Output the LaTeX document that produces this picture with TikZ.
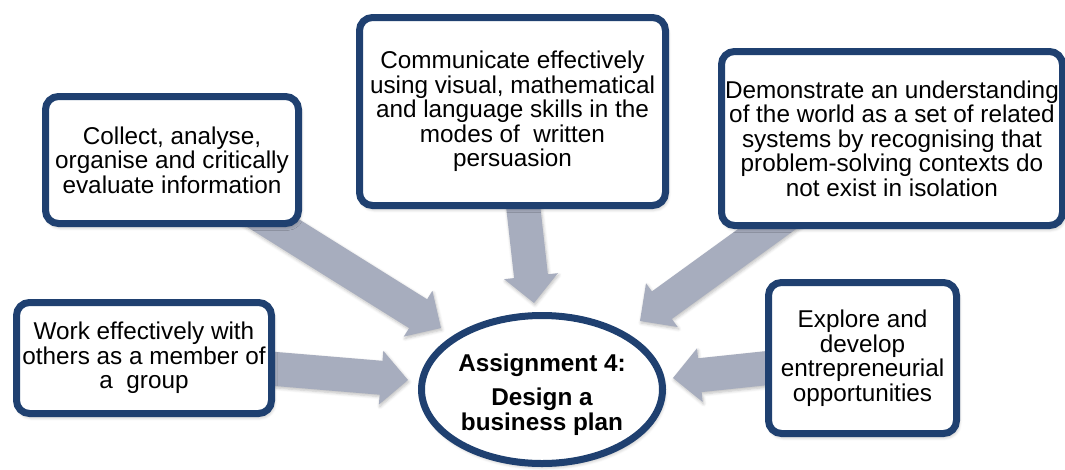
\documentclass[tikz,border=0pt]{standalone}
\usepackage{fontspec}
\setmainfont{Liberation Sans}
\usetikzlibrary{calc,shapes.geometric,shadows.blur,backgrounds}

\definecolor{rimblue}{RGB}{31,64,112}
\definecolor{flowgrey}{RGB}{167,173,190}

\tikzset{
  softshadow/.style={blur shadow={shadow xshift=1.5pt, shadow yshift=-3pt,
      shadow blur radius=4pt, shadow blur steps=6, shadow opacity=35}},
  goalbox/.style={draw=rimblue, line width=7pt, fill=white,
      rounded corners=13pt, inner sep=0pt, align=center,
      font=\fontsize{24.3}{24.5}\selectfont, softshadow},
  hub/.style={ellipse, draw=rimblue, line width=7pt, fill=white,
      inner sep=0pt, align=center,
      font=\fontsize{24.3}{24.5}\selectfont\bfseries, softshadow},
  flow/.style={fill=flowgrey, blur shadow={shadow xshift=1pt,
      shadow yshift=-2pt, shadow blur radius=3pt, shadow blur steps=5,
      shadow opacity=25}}
}

% Block arrow from #1 (tail) to #2 (tip): shaft 34, head 54 wide, 27 long
\newcommand{\flowarrow}[2]{%
  \coordinate (fa-hb) at ($(#2)!27pt!(#1)$);
  \fill[flow] (#2)
    -- ($(fa-hb)!27pt!90:(#2)$)
    -- ($(fa-hb)!17pt!90:(#2)$)
    -- ($(#1)!17pt!90:(fa-hb)$)
    -- ($(#1)!17pt!-90:(fa-hb)$)
    -- ($(fa-hb)!17pt!-90:(#2)$)
    -- ($(fa-hb)!27pt!-90:(#2)$)
    -- cycle;
}

\begin{document}
\begin{tikzpicture}[x=1pt,y=-1pt]
\useasboundingbox (0,0) rectangle (1065,469);

% outcome boxes
\node[goalbox, minimum width=253pt, minimum height=127pt] (collect) at (172,160)
  {Collect, analyse,\\organise and critically\\evaluate information};
\node[goalbox, minimum width=306pt, minimum height=188pt] (communicate) at (512.5,111.5)
  {Communicate effectively\\using visual, mathematical\\and language skills in the\\modes of~ written\\persuasion};
\node[goalbox, minimum width=341pt, minimum height=174pt] (demonstrate) at (892,138.5)
  {Demonstrate an understanding\\of the world as a set of related\\systems by recognising that\\problem-solving contexts do\\not exist in isolation};
\node[goalbox, minimum width=255pt, minimum height=111pt] (work) at (144,358)
  {Work effectively with\\others as a member of\\a~ group};
\node[goalbox, minimum width=188pt, minimum height=151pt] (explore) at (862.5,358)
  {Explore and\\develop\\entrepreneurial\\opportunities};

% central assignment
\node[hub, minimum width=241pt, minimum height=148pt] (assign) at (542,389.5)
  {\rule{0pt}{28pt}Assignment 4:\\[9.5pt]Design a\\business plan};

% arrow tips near the central ellipse
\coordinate (tipcollect) at (441,328);
\coordinate (tipcommunicate) at (534,303);
\coordinate (tipdemonstrate) at (640,321);
\coordinate (tipwork) at (408,380);
\coordinate (tipexplore) at (673,378);

\begin{scope}[on background layer]
  \flowarrow{collect.center}{tipcollect}
  \flowarrow{communicate.center}{tipcommunicate}
  \flowarrow{demonstrate.center}{tipdemonstrate}
  \flowarrow{work.center}{tipwork}
  \flowarrow{explore.center}{tipexplore}
\end{scope}
\end{tikzpicture}
\end{document}
